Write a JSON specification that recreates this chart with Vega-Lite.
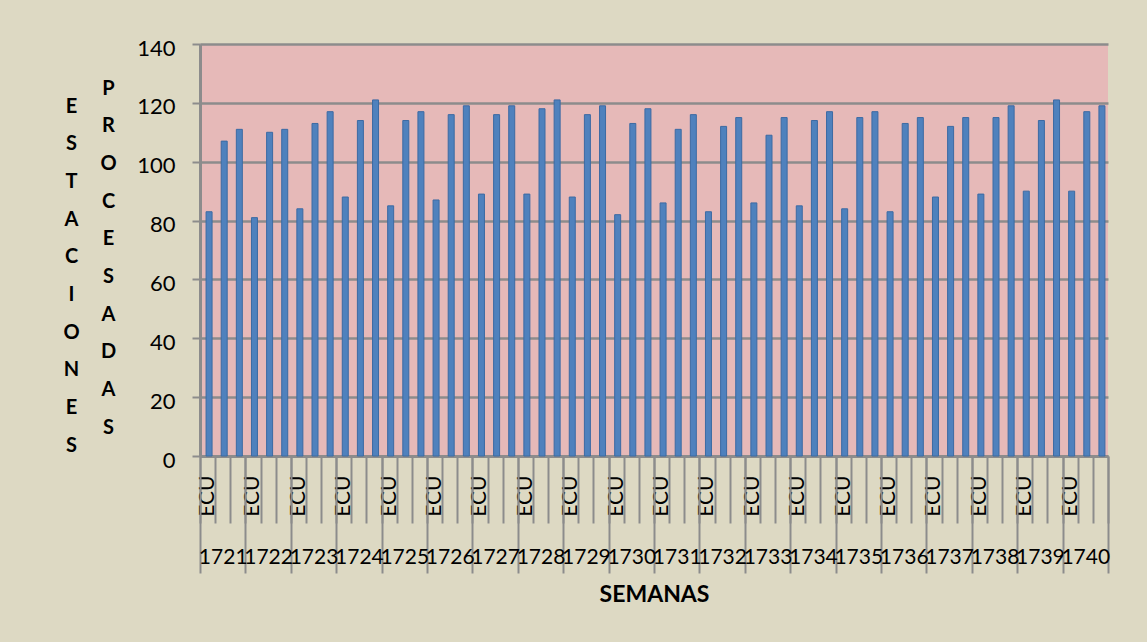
{
  "$schema": "https://vega.github.io/schema/vega-lite/v6.json",
  "width": 908,
  "height": 412,
  "autosize": {"type": "none"},
  "padding": {"left": 200, "top": 44, "right": 39, "bottom": 186},
  "background": "#ddd9c3",
  "config": {
    "view": {"fill": "#e6b9b8", "stroke": null},
    "font": "Lato"
  },
  "data": {
    "values": [
      {"semana": "1721", "barra": "1721-1", "valor": 83}, {"semana": "1721", "barra": "1721-2", "valor": 107}, {"semana": "1721", "barra": "1721-3", "valor": 111},
      {"semana": "1722", "barra": "1722-1", "valor": 81}, {"semana": "1722", "barra": "1722-2", "valor": 110}, {"semana": "1722", "barra": "1722-3", "valor": 111},
      {"semana": "1723", "barra": "1723-1", "valor": 84}, {"semana": "1723", "barra": "1723-2", "valor": 113}, {"semana": "1723", "barra": "1723-3", "valor": 117},
      {"semana": "1724", "barra": "1724-1", "valor": 88}, {"semana": "1724", "barra": "1724-2", "valor": 114}, {"semana": "1724", "barra": "1724-3", "valor": 121},
      {"semana": "1725", "barra": "1725-1", "valor": 85}, {"semana": "1725", "barra": "1725-2", "valor": 114}, {"semana": "1725", "barra": "1725-3", "valor": 117},
      {"semana": "1726", "barra": "1726-1", "valor": 87}, {"semana": "1726", "barra": "1726-2", "valor": 116}, {"semana": "1726", "barra": "1726-3", "valor": 119},
      {"semana": "1727", "barra": "1727-1", "valor": 89}, {"semana": "1727", "barra": "1727-2", "valor": 116}, {"semana": "1727", "barra": "1727-3", "valor": 119},
      {"semana": "1728", "barra": "1728-1", "valor": 89}, {"semana": "1728", "barra": "1728-2", "valor": 118}, {"semana": "1728", "barra": "1728-3", "valor": 121},
      {"semana": "1729", "barra": "1729-1", "valor": 88}, {"semana": "1729", "barra": "1729-2", "valor": 116}, {"semana": "1729", "barra": "1729-3", "valor": 119},
      {"semana": "1730", "barra": "1730-1", "valor": 82}, {"semana": "1730", "barra": "1730-2", "valor": 113}, {"semana": "1730", "barra": "1730-3", "valor": 118},
      {"semana": "1731", "barra": "1731-1", "valor": 86}, {"semana": "1731", "barra": "1731-2", "valor": 111}, {"semana": "1731", "barra": "1731-3", "valor": 116},
      {"semana": "1732", "barra": "1732-1", "valor": 83}, {"semana": "1732", "barra": "1732-2", "valor": 112}, {"semana": "1732", "barra": "1732-3", "valor": 115},
      {"semana": "1733", "barra": "1733-1", "valor": 86}, {"semana": "1733", "barra": "1733-2", "valor": 109}, {"semana": "1733", "barra": "1733-3", "valor": 115},
      {"semana": "1734", "barra": "1734-1", "valor": 85}, {"semana": "1734", "barra": "1734-2", "valor": 114}, {"semana": "1734", "barra": "1734-3", "valor": 117},
      {"semana": "1735", "barra": "1735-1", "valor": 84}, {"semana": "1735", "barra": "1735-2", "valor": 115}, {"semana": "1735", "barra": "1735-3", "valor": 117},
      {"semana": "1736", "barra": "1736-1", "valor": 83}, {"semana": "1736", "barra": "1736-2", "valor": 113}, {"semana": "1736", "barra": "1736-3", "valor": 115},
      {"semana": "1737", "barra": "1737-1", "valor": 88}, {"semana": "1737", "barra": "1737-2", "valor": 112}, {"semana": "1737", "barra": "1737-3", "valor": 115},
      {"semana": "1738", "barra": "1738-1", "valor": 89}, {"semana": "1738", "barra": "1738-2", "valor": 115}, {"semana": "1738", "barra": "1738-3", "valor": 119},
      {"semana": "1739", "barra": "1739-1", "valor": 90}, {"semana": "1739", "barra": "1739-2", "valor": 114}, {"semana": "1739", "barra": "1739-3", "valor": 121},
      {"semana": "1740", "barra": "1740-1", "valor": 90}, {"semana": "1740", "barra": "1740-2", "valor": 117}, {"semana": "1740", "barra": "1740-3", "valor": 119}
    ]
  },
  "layer": [
    {
      "mark": {"type": "bar", "width": 6, "xOffset": 1.5, "fill": "#4f81bd", "stroke": "#3c6aa3", "strokeWidth": 1},
      "encoding": {
        "x": {
          "field": "barra", "type": "nominal", "sort": null,
          "scale": {"paddingInner": 0, "paddingOuter": 0},
          "axis": {
            "orient": "bottom",
            "title": null,
            "tickBand": "extent",
            "tickSize": 67,
            "tickWidth": 2,
            "tickColor": "#8c8c8c",
            "domainColor": "#8c8c8c",
            "domainWidth": 3,
            "grid": false,
            "labelAngle": 270,
            "labelAlign": "right",
            "labelBaseline": "middle",
            "labelPadding": -48,
            "labelOverlap": false,
            "labelFont": "Lato",
            "labelFontSize": 21,
            "labelColor": "#000000",
            "labelExpr": "(datum.value && slice(datum.value + '', -1) == '1') ? 'ECU' : ''"
          }
        },
        "y": {
          "field": "valor", "type": "quantitative",
          "scale": {"domain": [0, 140], "nice": false},
          "axis": {
            "orient": "left",
            "values": [0, 20, 40, 60, 80, 100, 120, 140],
            "grid": true,
            "gridColor": "#8c8c8c",
            "gridWidth": 2.5,
            "domainColor": "#8c8c8c",
            "domainWidth": 3,
            "tickSize": 8,
            "tickWidth": 2,
            "tickColor": "#8c8c8c",
            "labelPadding": 17,
            "labelOffset": 4,
            "labelFont": "Lato",
            "labelFontSize": 22,
            "labelColor": "#000000",
            "title": ["P", "R", "O", "C", "E", "S", "A", "D", "A", "S"],
            "titleAngle": 0,
            "titleAlign": "center",
            "titleBaseline": "middle",
            "titleX": -92,
            "titleY": 44,
            "titleLineHeight": 37.7,
            "titleFont": "Lato",
            "titleFontSize": 20,
            "titleFontWeight": "bold",
            "titleColor": "#000000"
          }
        }
      }
    },
    {
      "mark": {"type": "point", "opacity": 0},
      "encoding": {
        "x": {
          "field": "semana", "type": "nominal", "sort": "ascending",
          "scale": {"type": "band", "paddingInner": 0, "paddingOuter": 0},
          "axis": {
            "orient": "bottom",
            "title": "SEMANAS",
            "domain": false,
            "grid": false,
            "tickBand": "extent",
            "tickSize": 117,
            "tickWidth": 2,
            "tickColor": "#8c8c8c",
            "labelAngle": 0,
            "labelAlign": "center",
            "labelBaseline": "top",
            "labelPadding": -27,
            "labelOverlap": false,
            "labelFont": "Lato",
            "labelFontSize": 21,
            "labelColor": "#000000",
            "titlePadding": 9,
            "titleFont": "Lato",
            "titleFontSize": 23,
            "titleFontWeight": "bold",
            "titleColor": "#000000"
          }
        },
        "y": {
          "field": "valor", "type": "quantitative",
          "axis": {
            "orient": "left",
            "labels": false,
            "ticks": false,
            "domain": false,
            "grid": false,
            "title": ["E", "S", "T", "A", "C", "I", "O", "N", "E", "S"],
            "titleAngle": 0,
            "titleAlign": "center",
            "titleBaseline": "middle",
            "titleX": -129,
            "titleY": 62,
            "titleLineHeight": 37.7,
            "titleFont": "Lato",
            "titleFontSize": 20,
            "titleFontWeight": "bold",
            "titleColor": "#000000"
          }
        }
      }
    }
  ],
  "resolve": {
    "scale": {"x": "independent"},
    "axis": {"x": "independent", "y": "independent"}
  }
}
